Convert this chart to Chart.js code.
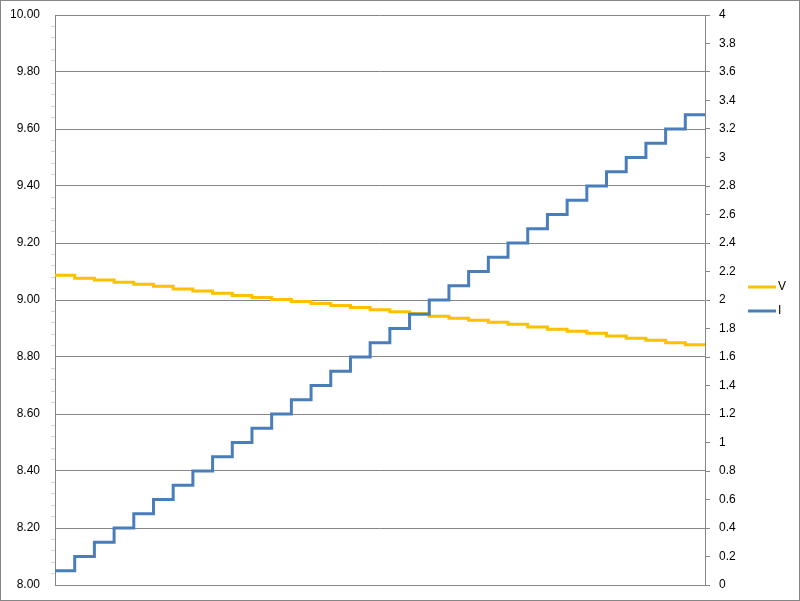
<!DOCTYPE html>
<html>
<head>
<meta charset="utf-8">
<script src="https://cdn.jsdelivr.net/npm/chart.js@4.4.1/dist/chart.umd.min.js"></script>
<style>
  html, body { margin: 0; padding: 0; background: #fff; }
  #wrap { position: relative; width: 800px; height: 601px; }
</style>
</head>
<body>
<div id="wrap"><canvas id="chart"></canvas></div>
<script>
// one sample per current step (last sample repeats to close the final step)
const steps = ["1", "2", "3", "4", "5", "6", "7", "8", "9", "10", "11", "12",
  "13", "14", "15", "16", "17", "18", "19", "20", "21", "22", "23", "24",
  "25", "26", "27", "28", "29", "30", "31", "32", "33", "34"];

const voltage = [9.087, 9.076, 9.070, 9.062, 9.055, 9.048, 9.039, 9.032, 9.024,
  9.016, 9.009, 9.002, 8.995, 8.988, 8.981, 8.974, 8.966, 8.959, 8.953, 8.943,
  8.936, 8.929, 8.922, 8.915, 8.905, 8.897, 8.890, 8.883, 8.874, 8.866, 8.859,
  8.850, 8.843, 8.843];

const current = [0.1, 0.2, 0.3, 0.4, 0.5, 0.6, 0.7, 0.8, 0.9, 1.0, 1.1, 1.2,
  1.3, 1.4, 1.5, 1.6, 1.7, 1.8, 1.9, 2.0, 2.1, 2.2, 2.3, 2.4, 2.5, 2.6, 2.7,
  2.8, 2.9, 3.0, 3.1, 3.2, 3.3, 3.3];

const vTickLabels = ["8.00", "8.20", "8.40", "8.60", "8.80", "9.00", "9.20",
  "9.40", "9.60", "9.80", "10.00"];
const iTickLabels = ["0", "0.2", "0.4", "0.6", "0.8", "1", "1.2", "1.4", "1.6",
  "1.8", "2", "2.2", "2.4", "2.6", "2.8", "3", "3.2", "3.4", "3.6", "3.8", "4"];

const YELLOW = "#FFC000";
const BLUE = "#4A7EBB";
const GRID = "#868686";
const FONT = { family: "'Liberation Sans', Arial, sans-serif", size: 12 };

const isMajor = (v) => vTickLabels.includes(v.toFixed(2));

// fixed axis width, and no extra vertical padding from the tick labels
const fixWidth = (w) => (scale) => {
  scale.width = w;
  scale.paddingTop = 0;
  scale.paddingBottom = 0;
};

// legend + chart border drawn straight on the canvas
const decorations = {
  id: "decorations",
  afterDraw(chart) {
    const ctx = chart.ctx;
    ctx.save();
    ctx.strokeStyle = GRID;
    ctx.lineWidth = 1;
    ctx.strokeRect(0.5, 0.5, 799, 600);

    const items = [
      { text: "V", color: YELLOW, y: 287 },
      { text: "I", color: BLUE, y: 311 },
    ];
    ctx.font = `${FONT.size}px ${FONT.family}`;
    ctx.textBaseline = "middle";
    ctx.textAlign = "left";
    items.forEach((item) => {
      ctx.strokeStyle = item.color;
      ctx.lineWidth = 3;
      ctx.beginPath();
      ctx.moveTo(748, item.y);
      ctx.lineTo(776, item.y);
      ctx.stroke();
      ctx.fillStyle = "#000";
      ctx.fillText(item.text, 778, item.y);
    });
    ctx.restore();
  },
};

new Chart(document.getElementById("chart"), {
  type: "line",
  data: {
    labels: steps,
    datasets: [
      {
        label: "V",
        data: voltage,
        yAxisID: "yV",
        borderColor: YELLOW,
        backgroundColor: YELLOW,
        borderWidth: 3,
        stepped: true,
        pointRadius: 0,
        order: 1,
      },
      {
        label: "I",
        data: current,
        yAxisID: "yI",
        borderColor: BLUE,
        backgroundColor: BLUE,
        borderWidth: 3,
        stepped: true,
        pointRadius: 0,
        order: 0,
      },
    ],
  },
  options: {
    responsive: true,
    maintainAspectRatio: false,
    animation: false,
    layout: { padding: { left: 0, right: 55, top: 15, bottom: 16 } },
    plugins: {
      legend: { display: false },
      tooltip: { enabled: false },
    },
    scales: {
      x: {
        type: "category",
        offset: false,
        grid: { display: false },
        ticks: { display: false },
        border: { display: true, color: GRID, width: 1 },
        afterFit: (scale) => { scale.height = 0; },
      },
      yV: {
        position: "left",
        min: 8,
        max: 10,
        ticks: {
          stepSize: 0.04,
          autoSkip: false,
          padding: 11,
          color: "#000",
          font: FONT,
          callback: (value) => (isMajor(value) ? value.toFixed(2) : ""),
        },
        grid: {
          tickLength: 4,
          color: (c) => (c.tick && isMajor(c.tick.value) ? GRID : "rgba(0,0,0,0)"),
          tickColor: (c) => (c.tick && isMajor(c.tick.value) ? "rgba(0,0,0,0)" : "#d4d4d4"),
        },
        border: { display: true, color: GRID, width: 1 },
        afterFit: fixWidth(55),
      },
      yI: {
        position: "right",
        min: 0,
        max: 4,
        ticks: {
          stepSize: 0.2,
          autoSkip: false,
          padding: 9,
          color: "#000",
          font: FONT,
          callback: (value, index) => iTickLabels[index],
        },
        grid: {
          drawOnChartArea: false,
          tickLength: 5,
          color: GRID,
        },
        border: { display: true, color: GRID, width: 1 },
        afterFit: fixWidth(40),
      },
    },
  },
  plugins: [decorations],
});
</script>
</body>
</html>
